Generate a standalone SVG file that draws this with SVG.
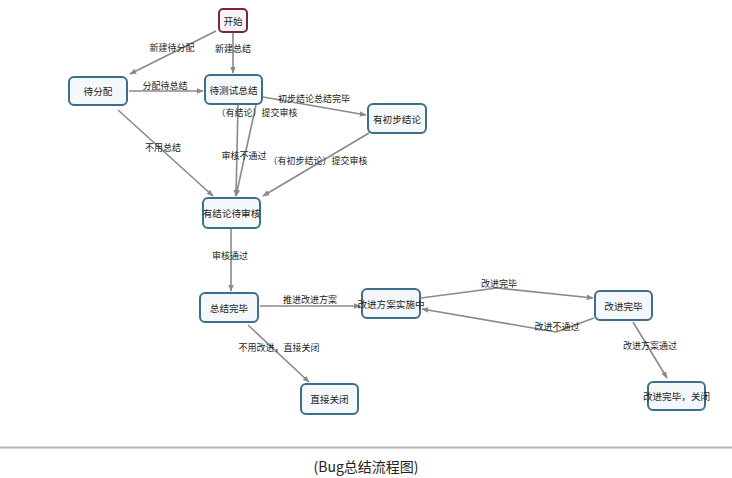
<svg xmlns="http://www.w3.org/2000/svg" width="732" height="478" viewBox="0 0 732 478">
<defs>
<marker id="arr" viewBox="0 0 10 10" refX="9" refY="5" markerWidth="7" markerHeight="7" orient="auto" markerUnits="userSpaceOnUse">
<path d="M0,1 L10,5 L0,9 z" fill="#8a8a8a"/>
</marker>
<style>
.n rect{fill:#f5f8fb;stroke:#3d6e8c;stroke-width:2}
.s rect{fill:#f8f4f5;stroke:#7a2636;stroke-width:2}
text{font-family:"Noto Sans CJK SC","Noto Sans",sans-serif;fill:#222}
.nt{font-size:9.6px;text-anchor:middle;dominant-baseline:central}
.lb{font-size:9px;text-anchor:middle;dominant-baseline:central}
.e{fill:none;stroke:#8a8a8a;stroke-width:1.6;marker-end:url(#arr)}
</style>
</defs>
<rect width="732" height="478" fill="#fff"/>
<g id="edges">
<path class="e" d="M216,31 L130,74"/>
<path class="e" d="M233,33 L233,73"/>
<path class="e" d="M129,91 L203,91"/>
<path class="e" d="M263,97 L366,115"/>
<path class="e" d="M238,105 L236,196"/>
<path class="e" d="M256,105 L236,196"/>
<path class="e" d="M369,133 L263,196"/>
<path class="e" d="M118,110 L213,196"/>
<path class="e" d="M231,229 L231,291"/>
<path class="e" d="M260,306 L360,306"/>
<path class="e" d="M248,325 L309,382"/>
<path class="e" d="M421,298 L497,288 L593,298"/>
<path class="e" d="M594,318 L556,332 L422,309"/>
<path class="e" d="M633,322 L667,378"/>
</g>
<g id="labels">
<text class="lb" x="172" y="47">新建待分配</text>
<text class="lb" x="233" y="48">新建总结</text>
<text class="lb" x="165" y="85">分配待总结</text>
<text class="lb" x="314" y="98">初步结论总结完毕</text>
<text class="lb" x="257" y="112">（有结论）提交审核</text>
<text class="lb" x="244" y="155">审核不通过</text>
<text class="lb" x="318" y="160">（有初步结论）提交审核</text>
<text class="lb" x="163" y="147">不用总结</text>
<text class="lb" x="230" y="255">审核通过</text>
<text class="lb" x="310" y="299">推进改进方案</text>
<text class="lb" x="279" y="347">不用改进，直接关闭</text>
<text class="lb" x="499" y="283">改进完毕</text>
<text class="lb" x="557" y="326">改进不通过</text>
<text class="lb" x="650" y="345">改进方案通过</text>
</g>
<g id="n_start" class="s"><rect x="219" y="9" width="28" height="23" rx="4"/><text class="nt" x="233" y="20.5">开始</text></g>
<g id="n_dfp" class="n"><rect x="69" y="77" width="58" height="28" rx="5"/><text class="nt" x="98" y="91">待分配</text></g>
<g id="n_dcs" class="n"><rect x="205" y="75" width="57" height="29" rx="5"/><text class="nt" x="233.5" y="89.5">待测试总结</text></g>
<g id="n_ycb" class="n"><rect x="368" y="104" width="58" height="29" rx="5"/><text class="nt" x="397" y="118.5">有初步结论</text></g>
<g id="n_yjl" class="n"><rect x="203" y="198" width="57" height="30" rx="5"/><text class="nt" x="231.5" y="213">有结论待审核</text></g>
<g id="n_zjwb" class="n"><rect x="200" y="293" width="58" height="29" rx="5"/><text class="nt" x="229" y="307.5">总结完毕</text></g>
<g id="n_gjss" class="n"><rect x="362" y="289" width="58" height="29" rx="5"/><text class="nt" x="391" y="303.5">改进方案实施中</text></g>
<g id="n_gjwb" class="n"><rect x="595" y="291" width="57" height="29" rx="5"/><text class="nt" x="623.5" y="305.5">改进完毕</text></g>
<g id="n_gjgb" class="n"><rect x="648" y="382" width="57" height="28" rx="5"/><text class="nt" x="676.5" y="396">改进完毕，关闭</text></g>
<g id="n_zjgb" class="n"><rect x="301" y="384" width="57" height="30" rx="5"/><text class="nt" x="329.5" y="399">直接关闭</text></g>
<line x1="0" y1="447.5" x2="732" y2="447.5" stroke="#b4b4b4" stroke-width="2"/>
<text x="366" y="466" font-size="14" text-anchor="middle" dominant-baseline="central">(Bug总结流程图)</text>
</svg>
